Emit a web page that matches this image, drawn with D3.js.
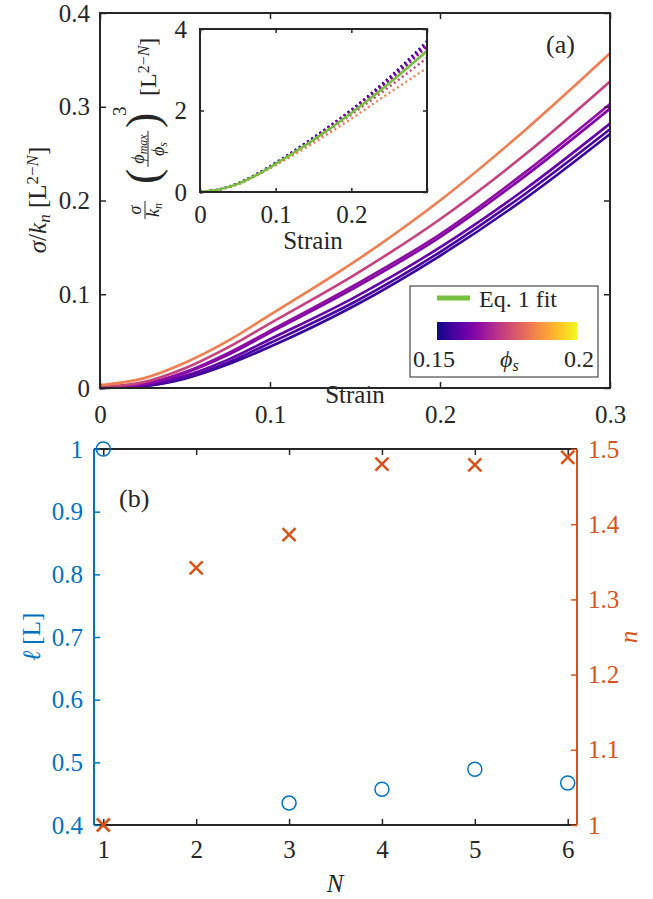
<!DOCTYPE html>
<html>
<head>
<meta charset="utf-8">
<script src="https://cdn.jsdelivr.net/npm/d3@7"></script>
<style>
  body { margin: 0; background: #fff; }
  text { font-family: "Liberation Serif", "DejaVu Serif", serif; fill: #262626; }
</style>
</head>
<body>
<div id="chart"></div>
<script>
// ---- data ----
var strain = [0, 0.025, 0.05, 0.075, 0.1, 0.15, 0.2, 0.25, 0.3];
var phiS = [0.154, 0.156, 0.159, 0.163, 0.165, 0.174, 0.184];
var sig1 = [0, 0.002, 0.010, 0.025, 0.044, 0.088, 0.141, 0.202, 0.271];
var sig2 = [0, 0.002, 0.011, 0.027, 0.048, 0.092, 0.145, 0.207, 0.276];
var sig3 = [0, 0.003, 0.013, 0.030, 0.052, 0.097, 0.150, 0.212, 0.282];
var sig4 = [0, 0.004, 0.016, 0.035, 0.059, 0.107, 0.161, 0.226, 0.298];
var sig5 = [0, 0.004, 0.017, 0.037, 0.061, 0.110, 0.164, 0.230, 0.303];
var sig6 = [0.001, 0.006, 0.021, 0.043, 0.069, 0.121, 0.180, 0.249, 0.327];
var sig7 = [0.003, 0.010, 0.027, 0.050, 0.078, 0.135, 0.200, 0.275, 0.357];
var stressCurves = [sig1, sig2, sig3, sig4, sig5, sig6, sig7];

// inset: stress scaled by (phi_max/phi_s)^3
var sc1 = [0, 0.06, 0.21, 0.44, 0.72, 1.34, 2.02, 2.81, 3.70];
var sc2 = [0, 0.06, 0.21, 0.44, 0.71, 1.33, 2.00, 2.78, 3.66];
var sc3 = [0, 0.06, 0.21, 0.43, 0.70, 1.32, 1.99, 2.76, 3.63];
var sc4 = [0, 0.06, 0.20, 0.43, 0.70, 1.31, 1.98, 2.75, 3.61];
var sc5 = [0, 0.06, 0.20, 0.42, 0.69, 1.30, 1.96, 2.72, 3.57];
var sc6 = [0, 0.06, 0.20, 0.42, 0.68, 1.26, 1.90, 2.58, 3.29];
var sc7 = [0, 0.06, 0.19, 0.41, 0.66, 1.20, 1.80, 2.43, 3.04];
var scaledCurves = [sc1, sc2, sc3, sc4, sc5, sc6, sc7];
var fitCurve = [0, 0.06, 0.20, 0.42, 0.69, 1.28, 1.94, 2.67, 3.46];

// panel (b)
var N = [1, 2, 3, 4, 5, 6];
var ell = [1.0, null, 0.435, 0.457, 0.489, 0.467];
var nExp = [1.0, 1.342, 1.386, 1.480, 1.479, 1.489];

var xTicksA = [0, 0.1, 0.2, 0.3];
var yTicksA = [0, 0.1, 0.2, 0.3, 0.4];
var xTicksIn = [0, 0.1, 0.2, 0.3];
var yTicksIn = [0, 2, 4];
var yTicksL = [0.4, 0.5, 0.6, 0.7, 0.8, 0.9, 1];
var yTicksR = [1, 1.1, 1.2, 1.3, 1.4, 1.5];

var blue = "#0072BD", red = "#D95319", ink = "#262626", green = "#77BF40";
var fs = 25;

var svg = d3.select("#chart").append("svg")
        .attr("width", 653).attr("height", 899);

var colorPhi = d3.scaleSequential(d3.interpolatePlasma).domain([0.15, 0.2]);

// ================= panel (a) =================
var x = d3.scaleLinear().domain([0, 0.3]).range([100, 610]);
var y = d3.scaleLinear().domain([0, 0.4]).range([388, 13]);

var line = d3.line()
        .x(function (d, i) { return x(strain[i]); })
        .y(function (d) { return y(d); })
        .curve(d3.curveMonotoneX);

svg.append("g").selectAll("path")
        .data(stressCurves)
        .enter().append("path")
        .attr("d", line)
        .attr("fill", "none")
        .attr("stroke", function (d, i) { return colorPhi(phiS[i]); })
        .attr("stroke-width", 2.6);

function styleAxis(g, col) {
        g.select(".domain").remove();
        g.selectAll(".tick line").attr("stroke", col).attr("stroke-width", 1.5);
        g.selectAll(".tick text").attr("fill", col)
                .style("fill", col)
                .style("font-size", fs + "px");
}

svg.append("g").attr("transform", "translate(0,388)")
        .call(d3.axisBottom(x).tickValues(xTicksA).tickFormat(d3.format("")).tickSize(-6).tickPadding(17))
        .call(styleAxis, ink);
svg.append("g").attr("transform", "translate(0,13)")
        .call(d3.axisTop(x).tickValues(xTicksA).tickFormat("").tickSize(-6))
        .call(styleAxis, ink);
svg.append("g").attr("transform", "translate(100,0)")
        .call(d3.axisLeft(y).tickValues(yTicksA).tickFormat(d3.format("")).tickSize(-6).tickPadding(10))
        .call(styleAxis, ink);
svg.append("g").attr("transform", "translate(610,0)")
        .call(d3.axisRight(y).tickValues(yTicksA).tickFormat("").tickSize(-6))
        .call(styleAxis, ink);
svg.append("rect").attr("x", 100).attr("y", 13).attr("width", 510).attr("height", 375)
        .attr("fill", "none").attr("stroke", ink).attr("stroke-width", 2);

svg.append("text").attr("x", 355).attr("y", 403).attr("text-anchor", "middle")
        .style("font-size", fs + "px").text("Strain");

var yl = svg.append("text").attr("transform", "translate(46,200) rotate(-90)")
        .attr("text-anchor", "middle").style("font-size", fs + "px");
yl.append("tspan").attr("font-style", "italic").text("σ");
yl.append("tspan").text("/");
yl.append("tspan").attr("font-style", "italic").text("k");
yl.append("tspan").attr("font-style", "italic").attr("baseline-shift", "-25%").style("font-size", "17px").text("n");
yl.append("tspan").text(" [L");
yl.append("tspan").attr("baseline-shift", "45%").style("font-size", "17px").text("2−");
yl.append("tspan").attr("baseline-shift", "45%").attr("font-style", "italic").style("font-size", "17px").text("N");
yl.append("tspan").text("]");

svg.append("text").attr("x", 546).attr("y", 53).style("font-size", "26px").text("(a)");

// legend
var lg = svg.append("g");
lg.append("rect").attr("x", 410).attr("y", 286).attr("width", 188).attr("height", 91)
        .attr("fill", "#fff").attr("stroke", ink).attr("stroke-width", 1);
lg.append("line").attr("x1", 437).attr("x2", 470).attr("y1", 298).attr("y2", 298)
        .attr("stroke", green).attr("stroke-width", 5);
lg.append("text").attr("x", 479).attr("y", 307).style("font-size", "24px").text("Eq. 1 fit");
var grad = svg.append("defs").append("linearGradient").attr("id", "plasma");
d3.range(0, 1.01, 0.1).forEach(function (t) {
        grad.append("stop").attr("offset", t).attr("stop-color", d3.interpolatePlasma(t));
});
lg.append("rect").attr("x", 437).attr("y", 322).attr("width", 140).attr("height", 18)
        .attr("fill", "url(#plasma)");
lg.append("text").attr("x", 413).attr("y", 367).style("font-size", "24px").text("0.15");
lg.append("text").attr("x", 594).attr("y", 367).attr("text-anchor", "end").style("font-size", "24px").text("0.2");
var ph = lg.append("text").attr("x", 500).attr("y", 367).style("font-size", "24px");
ph.append("tspan").attr("font-style", "italic").text("ϕ");
ph.append("tspan").attr("font-style", "italic").attr("baseline-shift", "-25%").style("font-size", "16px").text("s");

// ================= inset =================
var xi = d3.scaleLinear().domain([0, 0.3]).range([200, 427]);
var yi = d3.scaleLinear().domain([0, 4]).range([192, 29]);
svg.append("rect").attr("x", 200).attr("y", 29).attr("width", 227).attr("height", 163).attr("fill", "#fff");

var lineIn = d3.line()
        .x(function (d, i) { return xi(strain[i]); })
        .y(function (d) { return yi(d); })
        .curve(d3.curveMonotoneX);

svg.append("g").selectAll("path")
        .data(scaledCurves)
        .enter().append("path")
        .attr("d", lineIn)
        .attr("fill", "none")
        .attr("stroke", function (d, i) { return colorPhi(phiS[i]); })
        .attr("stroke-width", 2.4)
        .attr("stroke-dasharray", "2,3");
svg.append("path").datum(fitCurve).attr("d", lineIn)
        .attr("fill", "none").attr("stroke", green).attr("stroke-width", 2.6);

svg.append("g").attr("transform", "translate(0,192)")
        .call(d3.axisBottom(xi).tickValues(xTicksIn).tickFormat(function (d) { return d === 0.3 ? "" : d; }).tickSize(-4).tickPadding(13))
        .call(styleAxis, ink);
svg.append("g").attr("transform", "translate(0,29)")
        .call(d3.axisTop(xi).tickValues(xTicksIn).tickFormat("").tickSize(-4))
        .call(styleAxis, ink);
svg.append("g").attr("transform", "translate(200,0)")
        .call(d3.axisLeft(yi).tickValues(yTicksIn).tickFormat(d3.format("")).tickSize(-4).tickPadding(13))
        .call(styleAxis, ink);
svg.append("g").attr("transform", "translate(427,0)")
        .call(d3.axisRight(yi).tickValues(yTicksIn).tickFormat("").tickSize(-4))
        .call(styleAxis, ink);
svg.append("rect").attr("x", 200).attr("y", 29).attr("width", 227).attr("height", 163)
        .attr("fill", "none").attr("stroke", ink).attr("stroke-width", 2);
svg.append("text").attr("x", 313).attr("y", 249).attr("text-anchor", "middle")
        .style("font-size", fs + "px").text("Strain");

// inset y label, built in a rotated frame (local x = -page y, local y = page x - 148)
var il = svg.append("g").attr("transform", "translate(148,0) rotate(-90)");
il.append("text").attr("x", -210).attr("y", -7).attr("text-anchor", "middle")
        .attr("font-style", "italic").style("font-size", "18px").text("σ");
il.append("line").attr("x1", -219).attr("x2", -201).attr("y1", -3).attr("y2", -3)
        .attr("stroke", ink).attr("stroke-width", 1);
var kn = il.append("text").attr("x", -210).attr("y", 11).attr("text-anchor", "middle")
        .attr("font-style", "italic").style("font-size", "18px");
kn.append("tspan").text("k");
kn.append("tspan").attr("baseline-shift", "-25%").style("font-size", "12px").text("n");
il.append("text").attr("x", -184).attr("y", 10).style("font-size", "46px").text("(");
il.append("text").attr("x", -128).attr("y", 10).style("font-size", "46px").text(")");
var pm = il.append("text").attr("x", -149).attr("y", -4).attr("text-anchor", "middle")
        .attr("font-style", "italic").style("font-size", "18px");
pm.append("tspan").text("ϕ");
pm.append("tspan").attr("baseline-shift", "-25%").style("font-size", "12px").text("max");
il.append("line").attr("x1", -167).attr("x2", -131).attr("y1", 0).attr("y2", 0)
        .attr("stroke", ink).attr("stroke-width", 1);
var ps = il.append("text").attr("x", -149).attr("y", 16).attr("text-anchor", "middle")
        .attr("font-style", "italic").style("font-size", "18px");
ps.append("tspan").text("ϕ");
ps.append("tspan").attr("baseline-shift", "-25%").style("font-size", "12px").text("s");
il.append("text").attr("x", -116).attr("y", -22).style("font-size", "19px").text("3");
var lb = il.append("text").attr("x", -96).attr("y", 8).style("font-size", "24px");
lb.append("tspan").text("[L");
lb.append("tspan").attr("baseline-shift", "45%").style("font-size", "16px").text("2−");
lb.append("tspan").attr("baseline-shift", "45%").attr("font-style", "italic").style("font-size", "16px").text("N");
lb.append("tspan").text("]");

// ================= panel (b) =================
var xb = d3.scaleLinear().domain([0.9, 6.1]).range([94, 577]);
var yL = d3.scaleLinear().domain([0.4, 1]).range([825, 449]);
var yR = d3.scaleLinear().domain([1, 1.5]).range([825, 449]);

svg.append("line").attr("x1", 94).attr("x2", 577).attr("y1", 449).attr("y2", 449)
        .attr("stroke", ink).attr("stroke-width", 2);
svg.append("line").attr("x1", 94).attr("x2", 577).attr("y1", 825).attr("y2", 825)
        .attr("stroke", ink).attr("stroke-width", 2);

svg.append("g").attr("transform", "translate(0,825)")
        .call(d3.axisBottom(xb).tickValues(N).tickFormat(d3.format("d")).tickSize(-6).tickPadding(15))
        .call(styleAxis, ink);
svg.append("g").attr("transform", "translate(0,449)")
        .call(d3.axisTop(xb).tickValues(N).tickFormat("").tickSize(-6))
        .call(styleAxis, ink);
svg.append("g").attr("transform", "translate(94,0)")
        .call(d3.axisLeft(yL).tickValues(yTicksL).tickFormat(d3.format("")).tickSize(-6).tickPadding(11))
        .call(styleAxis, blue);
svg.append("g").attr("transform", "translate(577,0)")
        .call(d3.axisRight(yR).tickValues(yTicksR).tickFormat(d3.format("")).tickSize(-6).tickPadding(11))
        .call(styleAxis, red);
svg.append("line").attr("x1", 94).attr("x2", 94).attr("y1", 449).attr("y2", 825)
        .attr("stroke", blue).attr("stroke-width", 2);
svg.append("line").attr("x1", 577).attr("x2", 577).attr("y1", 449).attr("y2", 825)
        .attr("stroke", red).attr("stroke-width", 2);

svg.append("g").selectAll("circle")
        .data(N.filter(function (d, i) { return ell[i] !== null; }))
        .enter().append("circle")
        .attr("cx", function (d) { return xb(d); })
        .attr("cy", function (d) { return yL(ell[d - 1]); })
        .attr("r", 7)
        .attr("fill", "none").attr("stroke", blue).attr("stroke-width", 1.5);

var cr = 6.5;
svg.append("g").selectAll("path")
        .data(N)
        .enter().append("path")
        .attr("d", function (d, i) {
                var cx = xb(d), cy = yR(nExp[i]);
                return "M" + (cx - cr) + "," + (cy - cr) + "L" + (cx + cr) + "," + (cy + cr) +
                        "M" + (cx - cr) + "," + (cy + cr) + "L" + (cx + cr) + "," + (cy - cr);
        })
        .attr("stroke", red).attr("stroke-width", 2.5);

svg.append("text").attr("x", 119).attr("y", 507).style("font-size", "26px").text("(b)");

svg.append("text").attr("x", 335).attr("y", 892).attr("text-anchor", "middle")
        .attr("font-style", "italic").style("font-size", fs + "px").text("N");

var ll = svg.append("text").attr("transform", "translate(40,637) rotate(-90)")
        .attr("text-anchor", "middle").style("font-size", fs + "px").style("fill", blue);
ll.append("tspan").attr("font-style", "italic").style("fill", blue).text("ℓ");
ll.append("tspan").style("fill", blue).text(" [L]");

svg.append("text").attr("transform", "translate(637,637) rotate(-90)")
        .attr("text-anchor", "middle").attr("font-style", "italic")
        .style("font-size", fs + "px").style("fill", red).text("n");
</script>
</body>
</html>
